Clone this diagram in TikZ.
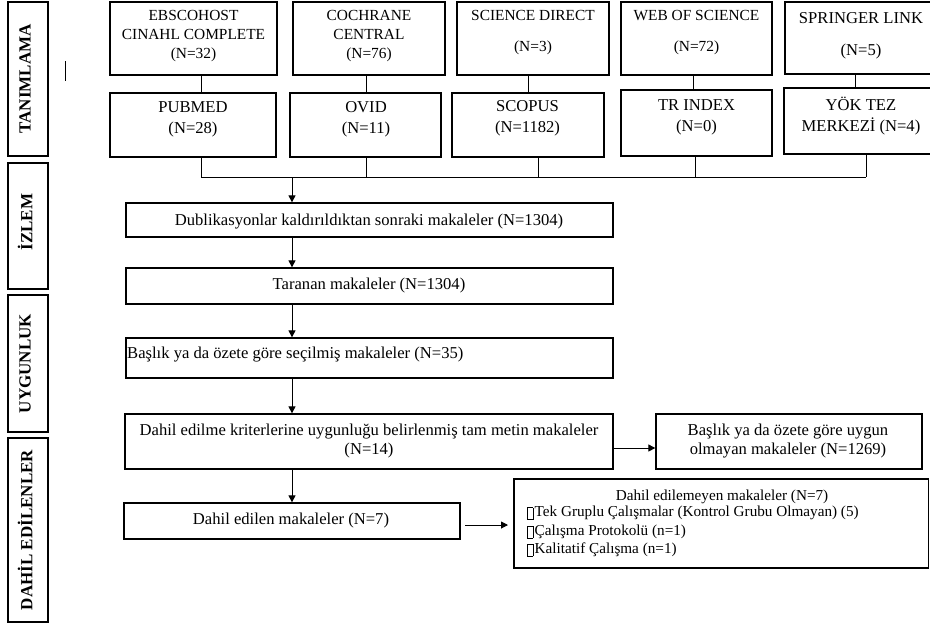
\documentclass[tikz,border=0pt]{standalone}
\usepackage{fontspec}
\setmainfont{Liberation Serif}
\usetikzlibrary{arrows.meta}
\newcommand\missbox{\raisebox{-2.5pt}{\setlength{\fboxsep}{0pt}\setlength{\fboxrule}{0.5pt}\fbox{\rule{0pt}{11.5pt}\hspace{5pt}}}\hspace{1.5pt}}
\begin{document}
\begin{tikzpicture}[x=1pt,y=-1pt,
  box/.style={draw, line width=1.3pt, inner sep=0pt},
  txt/.style={inner sep=0pt, align=center, font=\fontsize{16.6}{21}\selectfont},
  toptxt/.style={inner sep=0pt, align=center, font=\fontsize{15.4}{19}\selectfont},
  sidetxt/.style={inner sep=0pt, rotate=90, font=\bfseries\fontsize{17}{18}\selectfont},
  arr/.style={-{Triangle[length=7pt,width=7pt]}, line width=1pt},
  ln/.style={line width=1pt}]
\useasboundingbox (0,0) rectangle (930,625);

% side labels
\node[box, minimum width=40pt, minimum height=154pt] (tanim) at (28,79) {};
\node[sidetxt] (tanimT) at (25,79) {TANIMLAMA};
\node[box, minimum width=40pt, minimum height=126pt] (izlem) at (28,226) {};
\node[sidetxt] (izlemT) at (25,222) {İZLEM};
\node[box, minimum width=40pt, minimum height=137pt] (uygun) at (28,363.5) {};
\node[sidetxt] (uygunT) at (25,363.5) {UYGUNLUK};
\node[box, minimum width=40pt, minimum height=184pt] (dahil) at (28,530) {};
\node[sidetxt] (dahilT) at (25,530) {DAHİL EDİLENLER};

\coordinate (s1) at (65,61);
\coordinate (s2) at (65,81);
\draw[ln] (s1) -- (s2);

% top row
\node[box, minimum width=167pt, minimum height=73pt] (ebsco) at (193.5,38.5) {};
\node[toptxt] (ebscoT) at (193.5,36) {EBSCOHOST\\CINAHL COMPLETE\\(N=32)};
\node[box, minimum width=152pt, minimum height=73pt] (coch) at (369,38.5) {};
\node[toptxt] (cochT) at (369,36) {COCHRANE\\CENTRAL\\(N=76)};
\node[box, minimum width=152pt, minimum height=73pt] (sd) at (533,38.5) {};
\node[toptxt] (sdT) at (533,32.5) {SCIENCE DIRECT\\[12pt](N=3)};
\node[box, minimum width=151pt, minimum height=73pt] (wos) at (696.5,38.5) {};
\node[toptxt] (wosT) at (696.5,32.5) {WEB OF SCIENCE\\[12pt](N=72)};
\node[box, minimum width=152pt, minimum height=72pt] (spr) at (861,38) {};
\node[txt] (sprT) at (861,36) {SPRINGER LINK\\[11pt](N=5)};

% second row
\node[box, minimum width=166pt, minimum height=64pt] (pub) at (193,125) {};
\node[txt] (pubT) at (193,119) {PUBMED\\(N=28)};
\node[box, minimum width=151pt, minimum height=64pt] (ovid) at (365.5,125) {};
\node[txt] (ovidT) at (366,119) {OVID\\(N=11)};
\node[box, minimum width=152pt, minimum height=64pt] (scop) at (528,125) {};
\node[txt] (scopT) at (527.5,118) {SCOPUS\\(N=1182)};
\node[box, minimum width=151pt, minimum height=66pt] (tr) at (696.5,123) {};
\node[txt] (trT) at (696.5,117.5) {TR INDEX\\(N=0)};
\node[box, minimum width=152pt, minimum height=66pt] (yok) at (860,121) {};
\node[txt] (yokT) at (861,116) {YÖK TEZ\\MERKEZİ (N=4)};

% links between rows
\draw[ln] (201,0 |- ebsco.south) -- (201,0 |- pub.north);
\draw[ln] (366,0 |- coch.south) -- (366,0 |- ovid.north);
\draw[ln] (528,0 |- sd.south) -- (528,0 |- scop.north);
\draw[ln] (693,0 |- wos.south) -- (693,0 |- tr.north);
\draw[ln] (855,0 |- spr.south) -- (855,0 |- yok.north);

% bus
\coordinate (busL) at (201,177);
\coordinate (busR) at (866,177);
\coordinate (busA) at (292,177);
\draw[ln] (busL) -- (busR);
\draw[ln] (pub.south -| busL) -- (busL);
\draw[ln] (366,0 |- ovid.south) -- (366,177);
\draw[ln] (538,0 |- scop.south) -- (538,177);
\draw[ln] (695,0 |- tr.south) -- (695,177);
\draw[ln] (866,0 |- yok.south) -- (busR);

% main column
\node[box, minimum width=487pt, minimum height=34pt] (dub) at (369.5,220) {};
\node[txt] (dubT) at (369,221.5) {Dublikasyonlar kaldırıldıktan sonraki makaleler (N=1304)};
\node[box, minimum width=487pt, minimum height=36pt] (tar) at (369.5,286) {};
\node[txt] (tarT) at (369,285.5) {Taranan makaleler (N=1304)};
\node[box, minimum width=487pt, minimum height=40pt] (bas) at (369.5,358) {};
\node[txt, anchor=west] (basT) at (127,355) {Başlık ya da özete göre seçilmiş makaleler (N=35)};
\node[box, minimum width=488pt, minimum height=55pt] (dem) at (369,441.5) {};
\node[txt, font=\fontsize{16.6}{19.5}\selectfont] (demT) at (369,441) {Dahil edilme kriterlerine uygunluğu belirlenmiş tam metin makaleler\\(N=14)};
\node[box, minimum width=336pt, minimum height=36pt] (den) at (292,521) {};
\node[txt] (denT) at (291,520) {Dahil edilen makaleler (N=7)};

\node[box, minimum width=266pt, minimum height=55pt] (uyg) at (789,441.5) {};
\node[txt, font=\fontsize{16.6}{18.5}\selectfont] (uygT) at (788,441) {Başlık ya da özete göre uygun\\olmayan makaleler (N=1269)};

\node[box, minimum width=414.5pt, minimum height=89pt] (edm) at (721.25,523.5) {};
\node[txt, font=\fontsize{15.2}{18.3}\selectfont] (edmT) at (722,497) {Dahil edilemeyen makaleler (N=7)};
\node[txt, font=\fontsize{15.2}{18.3}\selectfont, align=left, anchor=north west] (edmL) at (527,506) {\missbox Tek Gruplu Çalışmalar (Kontrol Grubu Olmayan) (5)\\\missbox Çalışma Protokolü (n=1)\\\missbox Kalitatif Çalışma (n=1)};

% arrows
\draw[arr] (busA) -- (busA |- dub.north);
\draw[arr] (dub.south -| busA) -- (tar.north -| busA);
\draw[arr] (tar.south -| busA) -- (bas.north -| busA);
\draw[arr] (bas.south -| busA) -- (dem.north -| busA);
\draw[arr] (dem.south -| busA) -- (den.north);
\draw[arr] ([yshift=-6.5pt]dem.east) -- ([yshift=-6.5pt]dem.east -| uyg.west);
\coordinate (e1) at (465,525);
\coordinate (e2) at (508,525);
\draw[arr] (e1) -- (e2);
\end{tikzpicture}
\end{document}
